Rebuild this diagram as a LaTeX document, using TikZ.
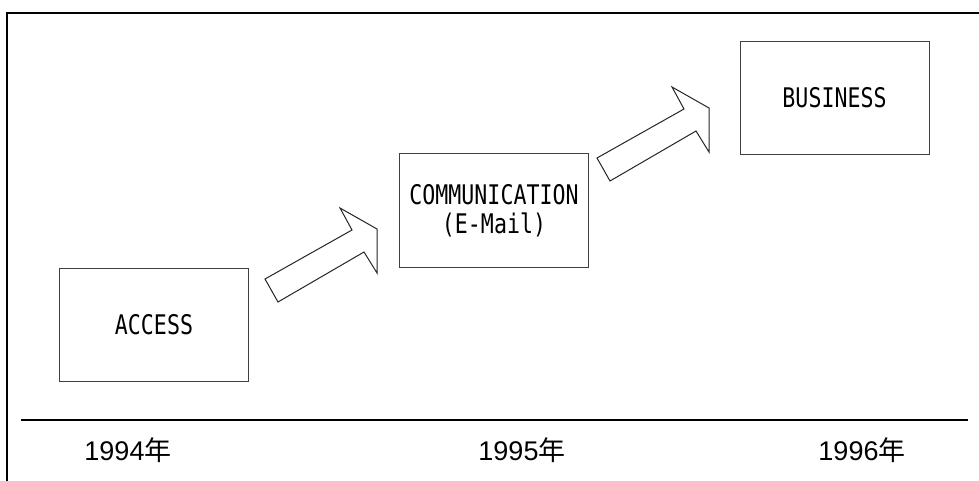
\documentclass[tikz,border=0pt]{standalone}
\usepackage{fontspec}
\newfontfamily\boxfont[FakeStretch=0.8]{DejaVu Sans Mono}
\newfontfamily\yearfont{Liberation Sans}
\newfontfamily\cjk{Noto Sans CJK JP}
\tikzset{
  stage/.style={draw=black!75, line width=1pt, minimum width=189pt, minimum height=113pt,
    inner sep=0pt, align=center, font=\boxfont\fontsize{27}{29}\selectfont},
  year/.style={font=\yearfont\fontsize{27}{30}\selectfont},
  pics/stagearrow/.style={code={
    \draw[line width=1pt, draw=black!85, fill=white] (0,0) -- (87,-49) -- (75,-71) -- (112,-50)
      -- (112,-6) -- (99,-27) -- (13,23) -- cycle;}}
}
\begin{document}
\begin{tikzpicture}[x=1pt, y=-1pt]
  \useasboundingbox (0,0) rectangle (979,481);
  \coordinate (fr0) at (7,490);
  \coordinate (fr1) at (7,13);
  \coordinate (fr2) at (990,13);
  \draw[line width=2.8pt] (fr0) -- (fr1) -- (fr2);
  \node[stage] (acc) at (154,324.5) {ACCESS};
  \node[stage] (comm) at (494,210.5) {COMMUNICATION\\(E-Mail)};
  \node[stage] (bus) at (834.5,98) {BUSINESS};
  \pic at (265,279) {stagearrow};
  \pic at (597,158) {stagearrow};
  \coordinate (tl0) at (21,420);
  \coordinate (tl1) at (968,420);
  \draw[line width=2.8pt] (tl0) -- (tl1);
  \node[year] (y94) at (128,450) {1994{\cjk 年}};
  \node[year] (y95) at (522,450) {1995{\cjk 年}};
  \node[year] (y96) at (862,450) {1996{\cjk 年}};
\end{tikzpicture}
\end{document}
